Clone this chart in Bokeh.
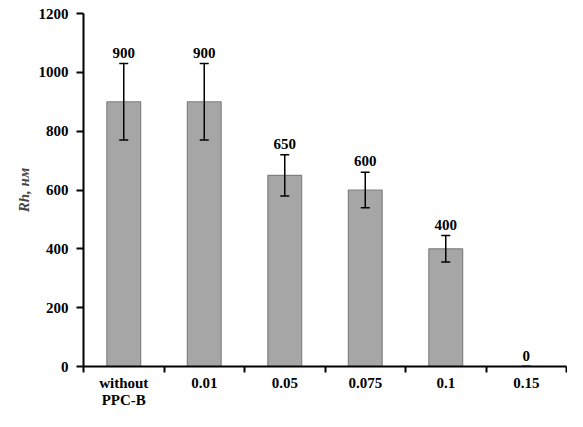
from bokeh.plotting import figure
from bokeh.models import ColumnDataSource, FixedTicker, Whisker, TeeHead
from bokeh.embed import file_html
from bokeh.resources import INLINE

# data
categories = ["without\nPPC-B", "0.01", "0.05", "0.075", "0.1", "0.15"]
rh_values = [900, 900, 650, 600, 400, 0]
rh_errors = [130, 130, 70, 60, 45, 0]
y_ticks = [0, 200, 400, 600, 800, 1000, 1200]

xpos = [i + 0.5 for i in range(len(categories))]
source = ColumnDataSource(dict(
    x=xpos,
    top=rh_values,
    upper=[v + e for v, e in zip(rh_values, rh_errors)],
    lower=[v - e for v, e in zip(rh_values, rh_errors)],
    label=[str(v) for v in rh_values],
))

p = figure(width=567, height=411, x_range=(0, len(categories)), y_range=(0, 1200),
           output_backend="svg", toolbar_location=None,
           min_border_left=83, min_border_right=1, min_border_top=13, min_border_bottom=30)
p.outline_line_color = None
p.grid.grid_line_color = None
p.background_fill_color = "white"

p.vbar(x="x", top="top", width=0.42, source=source,
       fill_color="#A6A6A6", line_color="#808080", line_width=1.2)

err = Whisker(source=source, base="x", upper="upper", lower="lower",
              line_color="black", line_width=1.5, level="overlay",
              upper_head=TeeHead(size=9, line_color="black", line_width=1.5),
              lower_head=TeeHead(size=9, line_color="black", line_width=1.5))
p.add_layout(err)

p.text(x="x", y="upper", text="label", source=source,
       text_align="center", text_baseline="middle", y_offset=-11,
       text_font_size="15px", text_font_style="bold", text_font="Liberation Serif",
       text_color="black")

# x axis: labels at the bar centres, tick marks between the categories
p.xaxis.ticker = FixedTicker(ticks=xpos, minor_ticks=list(range(len(categories) + 1)))
p.xaxis.major_label_overrides = {x: c for x, c in zip(xpos, categories)}
p.xaxis.major_tick_out = 0
p.xaxis.major_tick_in = 0
p.xaxis.minor_tick_out = 6
p.xaxis.minor_tick_in = 0
p.xaxis.minor_tick_line_width = 2
p.xaxis.minor_tick_line_color = "black"
p.xaxis.major_label_standoff = 2
p.xaxis.major_label_text_line_height = 1.1

p.yaxis.ticker = FixedTicker(ticks=y_ticks)
p.yaxis.minor_tick_line_color = None
p.yaxis.major_tick_out = 7
p.yaxis.major_tick_in = 0
p.yaxis.major_tick_line_width = 2
p.yaxis.axis_label = "Rh, нм"
p.yaxis.axis_label_text_font_style = "bold italic"
p.yaxis.axis_label_text_font_size = "15px"
p.yaxis.axis_label_text_font = "Liberation Serif"
p.yaxis.axis_label_standoff = 4
p.yaxis.major_label_standoff = 8

for ax in (p.xaxis, p.yaxis):
    ax.axis_line_width = 2
    ax.axis_line_color = "black"
    ax.major_tick_line_color = "black"
    ax.major_label_text_font = "Liberation Serif"
    ax.major_label_text_font_style = "bold"
    ax.major_label_text_font_size = "15px"
    ax.major_label_text_color = "black"

open("out.html", "w").write(file_html(p, INLINE))
